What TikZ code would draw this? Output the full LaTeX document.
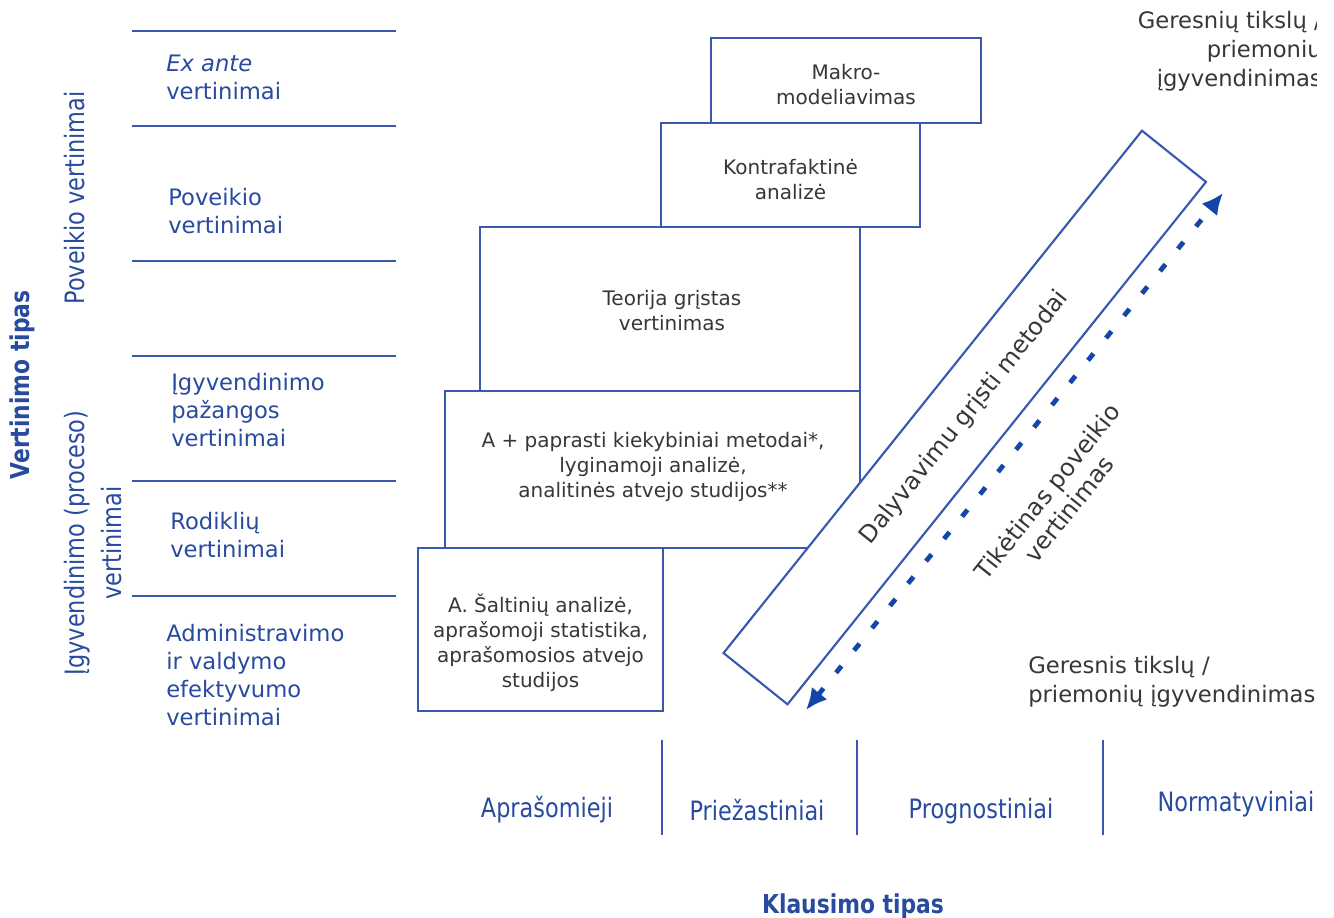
\documentclass[tikz,border=0pt]{standalone}
\usepackage{fontspec}
\setmainfont{DejaVu Sans}
\newfontfamily\condfont[FakeStretch=0.84]{DejaVu Sans}
\usetikzlibrary{arrows.meta}
\definecolor{btext}{RGB}{40,75,160}
\definecolor{bline}{RGB}{55,90,175}
\definecolor{barrow}{RGB}{20,70,170}
\definecolor{gtext}{RGB}{55,55,55}
\begin{document}
\begin{tikzpicture}[x=0.75pt,y=-0.75pt,
  hline/.style={draw=bline, line width=1.5pt},
  box/.style={draw=bline, line width=1.9pt, fill=white, inner sep=0pt},
  boxtext/.style={text=gtext, align=center, font=\fontsize{15}{18.75}\selectfont, inner sep=0pt},
  lab/.style={text=btext, align=left, anchor=west, font=\fontsize{17}{21}\selectfont, inner sep=0pt},
  rlab/.style={text=btext, rotate=90, align=center, font=\condfont\fontsize{20}{28}\selectfont, inner sep=0pt},
  qlab/.style={text=btext, font=\condfont\fontsize{20}{24}\selectfont, inner sep=0pt},
  gnote/.style={text=gtext, font=\fontsize{17}{21.75}\selectfont, inner sep=0pt},
  band/.style={draw=bline, line width=1.6pt, fill=white, inner sep=0pt, text=gtext, font=\fontsize{18}{21}\selectfont},
  arrowline/.style={draw=barrow, line width=3.6pt, dash pattern=on 6.5pt off 15pt}]
\useasboundingbox (0,0) rectangle (1334,917);
\clip (0,0) rectangle (1334,917);
\fill[white] (0,0) rectangle (1334,917);

% left table lines
\foreach \yy in {31,126,261,356,481,596} \draw[hline] (132,\yy) -- (396,\yy);

% left rotated labels
\node[rlab, font=\condfont\bfseries\fontsize{19.5}{22}\selectfont] (vtip) at (22,385) {Vertinimo tipas};
\node[rlab] (povv) at (75,198) {Poveikio vertinimai};
\node[rlab] (igyv) at (93,543) {Įgyvendinimo (proceso)\\vertinimai};

% left labels
\node[lab] (exante) at (166,77) {\textit{Ex ante}\\vertinimai};
\node[lab] (poveik) at (168,211) {Poveikio\\vertinimai};
\node[lab] (pazang) at (171,410) {Įgyvendinimo\\pažangos\\vertinimai};
\node[lab] (rodikl) at (170,535) {Rodiklių\\vertinimai};
\node[lab] (admin) at (166,675) {Administravimo\\ir valdymo\\efektyvumo\\vertinimai};

% boxes
\node[box, minimum width=202.5pt, minimum height=63.75pt] (mak) at (846,80.5) {};
\node[box, minimum width=194.25pt, minimum height=78pt] (kon) at (790.5,175) {};
\node[box, minimum width=285pt, minimum height=123pt] (teo) at (670,309) {};
\node[box, minimum width=311.25pt, minimum height=117.75pt] (apk) at (652.5,469.5) {};
\node[box, minimum width=183.75pt, minimum height=122.25pt] (sal) at (540.5,629.5) {};

\node[boxtext] (makt) at (846,85) {Makro-\\modeliavimas};
\node[boxtext] (kont) at (790.5,180) {Kontrafaktinė\\analizė};
\node[boxtext] (teot) at (672,311) {Teorija grįstas\\vertinimas};
\node[boxtext] (apkt) at (653,467) {A + paprasti kiekybiniai metodai*,\\lyginamoji analizė,\\analitinės atvejo studijos**};
\node[boxtext] (salt) at (540.5,643) {A. Šaltinių analizė,\\aprašomoji statistika,\\aprašomosios atvejo\\studijos};

% band
\node[band, rotate=51.3, minimum width=502pt, minimum height=61.5pt] (band) at (964.75,417.5) {Dalyvavimu grįsti metodai};

% dotted double arrow
\coordinate (aS) at (806,710);
\coordinate (aE) at (1223,193);
\draw[arrowline, {Latex[length=16pt,width=15pt]}-{Latex[length=16pt,width=15pt]}] (aS) -- (aE);

\node[gnote, rotate=51.3, align=center, font=\fontsize{18}{21}\selectfont] (tiket) at (1058,500) {Tikėtinas poveikio\\vertinimas};

% notes right (reference is cut at its right edge)
\begin{scope}
\clip (0,0) rectangle (1316,917);
\node[gnote, align=right, anchor=north east] (topnote) at (1322,11) {Geresnių tikslų /\\priemonių\\įgyvendinimas};
\node[gnote, align=left, anchor=north west] (botnote) at (1028,656) {Geresnis tikslų /\\priemonių įgyvendinimas};
\end{scope}

% bottom axis
\foreach \xx in {662,857,1103} \draw[hline] (\xx,740) -- (\xx,835);
\node[qlab] (q1) at (547,810) {Aprašomieji};
\node[qlab] (q2) at (757,810) {Priežastiniai};
\node[qlab] (q3) at (981,811) {Prognostiniai};
\node[qlab] (q4) at (1236,804) {Normatyviniai};
\node[qlab, font=\condfont\bfseries\fontsize{19.5}{22}\selectfont] (ktip) at (853,906) {Klausimo tipas};
\end{tikzpicture}
\end{document}
